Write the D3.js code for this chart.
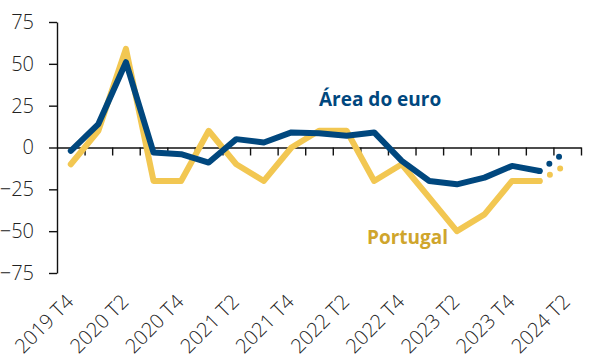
<!DOCTYPE html>
<html>
<head>
<meta charset="utf-8">
<script src="https://cdn.jsdelivr.net/npm/d3@7"></script>
<style>
	body { margin: 0; background: #fff; }
	svg { display: block; font-family: "Open Sans", sans-serif; }
</style>
</head>
<body>
<svg id="chart" width="594" height="361"></svg>
<script>
// Quarters shown on the x axis (one band each)
var quarters = ["2019 T4", "2020 T1", "2020 T2", "2020 T3", "2020 T4",
	"2021 T1", "2021 T2", "2021 T3", "2021 T4",
	"2022 T1", "2022 T2", "2022 T3", "2022 T4",
	"2023 T1", "2023 T2", "2023 T3", "2023 T4",
	"2024 T1", "2024 T2"];
var tickLabels = ["2019 T4", "2020 T2", "2020 T4", "2021 T2", "2021 T4",
	"2022 T2", "2022 T4", "2023 T2", "2023 T4", "2024 T2"];
var yTicks = [-75, -50, -25, 0, 25, 50, 75];

// Observed values, 2019 T4 .. 2024 T1
var euroArea = [-2, 14, 51, -3, -4, -9, 5, 3, 9, 8.5, 7, 9, -8, -20, -22, -18, -11, -14];
var portugal = [-10, 10, 59, -20, -20, 10, -10, -20, 0, 10, 10, -20, -10, -30, -50, -40, -20, -20];
// Expected values (dotted), 2024 T1 -> 2024 T2
var euroAreaExp = [-14, -2];
var portugalExp = [-20, -10];
var expQuarters = ["2024 T1", "2024 T2"];

var blue = "#00477e", yellow = "#f2c752", gold = "#cfa52c";

var svg = d3.select("#chart");
var plotLeft = 57, plotRight = 581, plotTop = 22, plotBottom = 273;

var x = d3.scaleBand().domain(quarters).range([plotLeft, plotRight]);
var xIdx = d3.scaleLinear().domain([0, quarters.length]).range([plotLeft, plotRight]);
var y = d3.scaleLinear().domain([-75, 75]).range([plotBottom, plotTop]);
var cx = function(q) { return x(q) + x.bandwidth() / 2; };

// y axis
var yAxis = svg.append("g")
	.attr("transform", "translate(" + plotLeft + ",0)")
	.call(d3.axisLeft(y).tickValues(yTicks).tickSize(8).tickSizeOuter(0).tickPadding(15));
yAxis.select(".domain").attr("stroke", "#111").attr("stroke-width", 1.4);
yAxis.selectAll(".tick line").attr("stroke", "#111").attr("stroke-width", 1.4);
yAxis.selectAll(".tick text")
	.attr("font-size", 20).attr("font-weight", 300).attr("fill", "#222")
	.attr("font-family", "'Open Sans', sans-serif");

// x axis on the zero line, ticks at band boundaries
var xAxis = svg.append("g")
	.attr("transform", "translate(0," + y(0) + ")")
	.call(d3.axisBottom(xIdx).tickValues(d3.range(1, quarters.length + 1))
		.tickSize(8).tickSizeOuter(0).tickFormat(""));
xAxis.select(".domain").attr("stroke", "#111").attr("stroke-width", 1.4);
xAxis.selectAll(".tick line").attr("stroke", "#111").attr("stroke-width", 1.4);

// rotated quarter labels below the plot
svg.append("g").selectAll("text")
	.data(tickLabels)
	.join("text")
	.attr("transform", function(d) { return "translate(" + (cx(d) + 4) + ",303) rotate(-45)"; })
	.attr("text-anchor", "end")
	.attr("font-size", 20).attr("font-weight", 300).attr("fill", "#222")
	.text(function(d) { return d; });

var line = d3.line()
	.x(function(d, i) { return cx(quarters[i]); })
	.y(function(d) { return y(d); });
var expLine = d3.line()
	.x(function(d, i) { return cx(expQuarters[i]); })
	.y(function(d) { return y(d); });

function drawSeries(values, expValues, color) {
	svg.append("path")
		.attr("d", line(values))
		.attr("fill", "none").attr("stroke", color)
		.attr("stroke-width", 6).attr("stroke-linecap", "round")
		.attr("stroke-linejoin", "round");
	svg.append("path")
		.attr("d", expLine(expValues))
		.attr("fill", "none").attr("stroke", color)
		.attr("stroke-width", 6).attr("stroke-linecap", "round")
		.attr("stroke-dasharray", "0 12");
}
drawSeries(portugal, portugalExp, yellow);
drawSeries(euroArea, euroAreaExp, blue);

// series labels
svg.append("text").attr("x", 319).attr("y", 106)
	.attr("font-size", 19).attr("font-weight", 700).attr("fill", blue)
	.text("Área do euro");
svg.append("text").attr("x", 367).attr("y", 244)
	.attr("font-size", 19).attr("font-weight", 700).attr("fill", gold)
	.text("Portugal");
</script>
</body>
</html>
